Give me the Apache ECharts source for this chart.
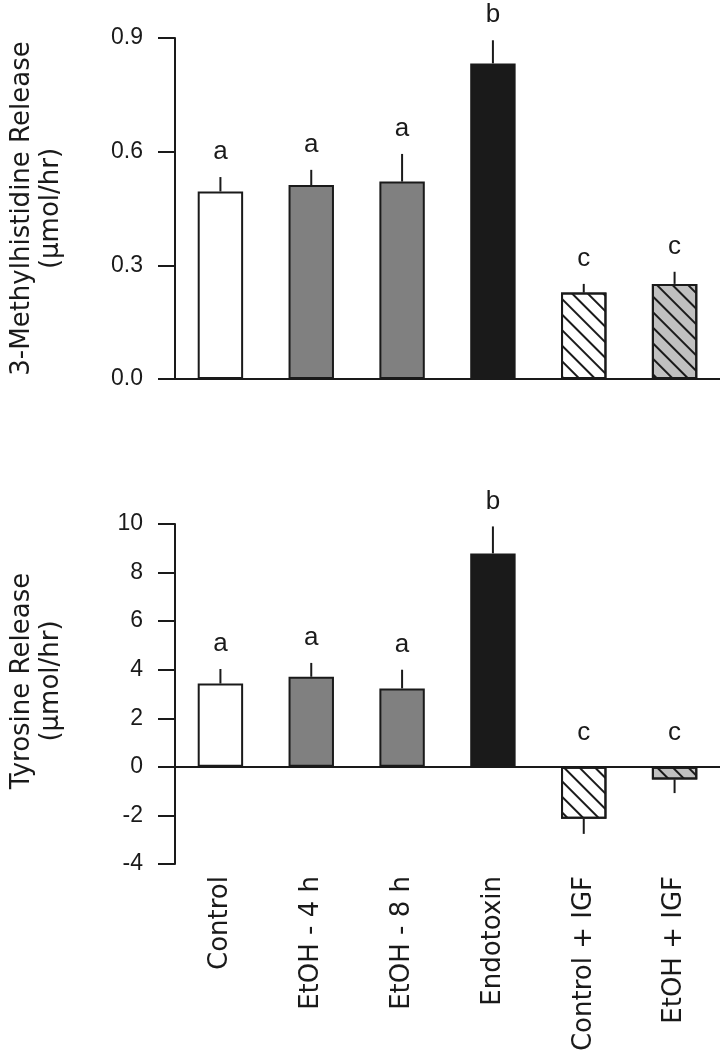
<!DOCTYPE html>
<html>
<head>
<meta charset="utf-8">
<script src="https://cdn.jsdelivr.net/npm/echarts@6/dist/echarts.min.js"></script>
<style>
html,body{margin:0;padding:0;background:#fff;}
#chart{width:720px;height:1055px;}
</style>
</head>
<body>
<div id="chart"></div>
<script>
// ---- data ----
const categories = ['Control', 'EtOH - 4 h', 'EtOH - 8 h', 'Endotoxin', 'Control + IGF', 'EtOH + IGF'];
const methylValues = [0.495, 0.512, 0.521, 0.833, 0.228, 0.251];
const methylErrors = [0.038, 0.040, 0.073, 0.061, 0.023, 0.032];
const methylLetters = ['a', 'a', 'a', 'b', 'c', 'c'];
const tyrosineValues = [3.43, 3.71, 3.23, 8.79, -2.14, -0.52];
const tyrosineErrors = [0.60, 0.57, 0.77, 1.11, 0.62, 0.56];
const tyrosineLetters = ['a', 'a', 'a', 'b', 'c', 'c'];
const methylAxis = { min: 0, max: 0.9, interval: 0.3 };
const tyrosineAxis = { min: -4, max: 10, interval: 2 };

// ---- styles ----
const INK = '#1a1a1a';
const hatch = { symbol: 'rect', color: INK, dashArrayX: [1, 0], dashArrayY: [2, 8.5], rotation: Math.PI / 4 };
const barStyles = [
  { color: '#ffffff' },
  { color: '#808080' },
  { color: '#808080' },
  { color: '#1a1a1a' },
  { color: '#ffffff', decal: hatch },
  { color: '#c0c0c0', decal: hatch }
];

function barData(values) {
  return values.map((v, i) => ({
    value: v,
    itemStyle: Object.assign({ borderColor: INK, borderWidth: 2 }, barStyles[i])
  }));
}

function errData(values, errors) {
  return values.map((v, i) => [i, v, errors[i]]);
}

function makeRender(letters) {
  return function (params, api) {
    const i = api.value(0), v = api.value(1), e = api.value(2);
    const end = v >= 0 ? v + e : v - e;
    const p0 = api.coord([i, v]);
    const p1 = api.coord([i, end]);
    const pa = api.coord([i, v >= 0 ? end : 0]);
    const gap = v >= 0 ? 12 : 21;
    return {
      type: 'group',
      children: [
        { type: 'line', shape: { x1: p0[0], y1: p0[1], x2: p1[0], y2: p1[1] },
          style: { stroke: INK, lineWidth: 2 } },
        { type: 'text', x: pa[0], y: pa[1] - gap,
          style: { text: letters[params.dataIndex], fill: INK, fontSize: 26,
                   fontFamily: 'Liberation Sans, Arial, sans-serif', align: 'center', verticalAlign: 'bottom' } }
      ]
    };
  };
}

const yAxisCommon = {
  type: 'value',
  nameLocation: 'middle',
  nameGap: 109,
  nameTextStyle: { fontFamily: 'DejaVu Sans', fontSize: 26, lineHeight: 29, color: INK },
  axisLine: { show: true, lineStyle: { color: INK, width: 2 } },
  axisTick: { show: true, length: 17, lineStyle: { color: INK, width: 2 } },
  axisLabel: { margin: 32, fontSize: 23, fontFamily: 'Liberation Sans, Arial, sans-serif', color: INK },
  splitLine: { show: false }
};

const chart = echarts.init(document.getElementById('chart'), null, { renderer: 'canvas' });
chart.setOption({
  backgroundColor: '#ffffff',
  animation: false,
  grid: [
    { left: 173, right: 0, top: 38, height: 341 },
    { left: 173, right: 0, top: 524, height: 340 }
  ],
  xAxis: [
    { type: 'category', gridIndex: 0, data: categories,
      axisLine: { show: true, onZero: true, lineStyle: { color: INK, width: 2 } },
      axisTick: { show: false }, axisLabel: { show: false } },
    { type: 'category', gridIndex: 1, data: categories, position: 'bottom',
      axisLine: { show: false, onZero: false }, axisTick: { show: false },
      axisLabel: { rotate: 90, margin: 12, fontSize: 26, fontFamily: 'DejaVu Sans', color: INK, interval: 0 } },
    { type: 'category', gridIndex: 1, data: categories,
      axisLine: { show: true, onZero: true, lineStyle: { color: INK, width: 2 } },
      axisTick: { show: false }, axisLabel: { show: false } }
  ],
  yAxis: [
    Object.assign({}, yAxisCommon, {
      gridIndex: 0, min: methylAxis.min, max: methylAxis.max, interval: methylAxis.interval,
      name: '3-Methylhistidine Release\n(µmol/hr)',
      axisLabel: Object.assign({}, yAxisCommon.axisLabel, { formatter: v => v.toFixed(1) })
    }),
    Object.assign({}, yAxisCommon, {
      gridIndex: 1, min: tyrosineAxis.min, max: tyrosineAxis.max, interval: tyrosineAxis.interval,
      name: 'Tyrosine Release\n(µmol/hr)',
      nameTextStyle: Object.assign({}, yAxisCommon.nameTextStyle, { padding: [0, 0, 0, 26] })
    })
  ],
  series: [
    { type: 'bar', xAxisIndex: 0, yAxisIndex: 0, barWidth: '50%', data: barData(methylValues) },
    { type: 'custom', xAxisIndex: 0, yAxisIndex: 0, clip: false, z: 5,
      encode: { x: 0, y: 1 }, renderItem: makeRender(methylLetters), data: errData(methylValues, methylErrors) },
    { type: 'bar', xAxisIndex: 1, yAxisIndex: 1, barWidth: '50%', data: barData(tyrosineValues) },
    { type: 'custom', xAxisIndex: 1, yAxisIndex: 1, clip: false, z: 5,
      encode: { x: 0, y: 1 }, renderItem: makeRender(tyrosineLetters), data: errData(tyrosineValues, tyrosineErrors) }
  ]
});
</script>
</body>
</html>
